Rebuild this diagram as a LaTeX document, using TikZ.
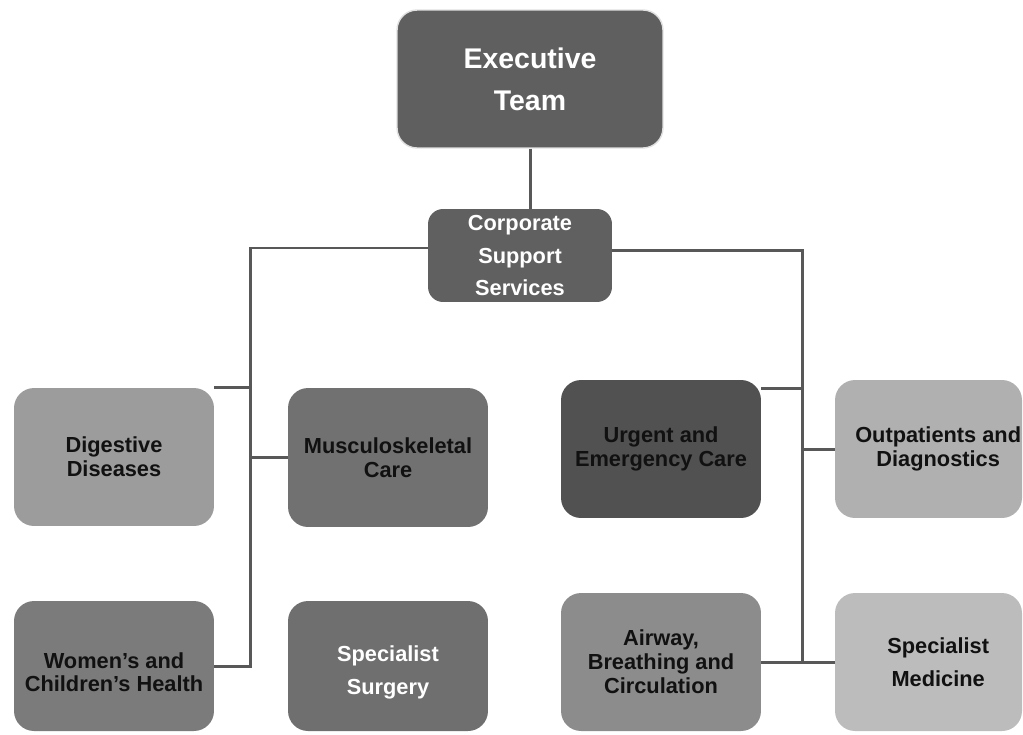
\documentclass[tikz,border=0pt]{standalone}
\usepackage{fontspec}
\setmainfont{Liberation Sans}
\definecolor{cexec}{HTML}{5F5F5F}
\definecolor{ccorp}{HTML}{606060}
\definecolor{cdig}{HTML}{9C9C9C}
\definecolor{cmusc}{HTML}{717171}
\definecolor{curg}{HTML}{515151}
\definecolor{coutp}{HTML}{B0B0B0}
\definecolor{cwom}{HTML}{7B7B7B}
\definecolor{csurg}{HTML}{6F6F6F}
\definecolor{cair}{HTML}{8C8C8C}
\definecolor{cmed}{HTML}{BCBCBC}
\definecolor{linec}{HTML}{585858}
\definecolor{txtdark}{HTML}{111111}
\begin{document}
\begin{tikzpicture}[x=0.02cm,y=-0.02cm,
  box/.style={rectangle, rounded corners=0.4cm, inner sep=0pt, align=center,
    font=\bfseries\fontsize{12.4pt}{13.6pt}\selectfont, text=txtdark},
  widebox/.style={box, font=\bfseries\fontsize{12.4pt}{18.7pt}\selectfont, text=white},
  conn/.style={draw=linec, line width=1.7pt}]
\useasboundingbox (0,0) rectangle (1023,734);
% boxes
\node[box, fill=cexec, draw=black!12, line width=0.8pt, text=white,
  font=\bfseries\fontsize{16.2pt}{23.8pt}\selectfont,
  minimum width=5.32cm, minimum height=2.76cm] (exec) at (530,79) {Executive\\Team};
\node[widebox, fill=ccorp, rounded corners=0.3cm,
  minimum width=3.68cm, minimum height=1.86cm] (corp) at (520,255.5) {Corporate\\Support\\Services};
\node[box, fill=cdig, minimum width=4cm, minimum height=2.76cm] (dig) at (114,457) {Digestive\\Diseases};
\node[box, fill=cmusc, minimum width=4cm, minimum height=2.78cm] (musc) at (388,457.5) {Musculoskeletal\\Care};
\node[box, fill=curg, minimum width=4cm, minimum height=2.76cm] (urg) at (661,449) {Urgent and\\Emergency Care};
\node[box, fill=coutp, minimum width=3.74cm, minimum height=2.76cm] (outp) at (928.5,449) {\hspace*{11pt}Outpatients and\\\hspace*{11pt}Diagnostics};
\node[box, fill=cwom, minimum width=4cm, minimum height=2.6cm] (wom) at (114,666) {\rule{0pt}{16pt}Women’s and\\Children’s Health};
\node[widebox, fill=csurg, minimum width=4cm, minimum height=2.6cm] (surg) at (388,666) {\rule{0pt}{16pt}Specialist\\Surgery};
\node[box, fill=cair, minimum width=4cm, minimum height=2.76cm] (air) at (661,662) {Airway,\\Breathing and\\Circulation};
\node[widebox, fill=cmed, text=txtdark, minimum width=3.74cm, minimum height=2.76cm] (med) at (928.5,662) {\hspace*{11pt}Specialist\\\hspace*{11pt}Medicine};
% buses
\coordinate (lb) at (250.5,248);
\coordinate (rb) at (802,250.5);
% connectors
\draw[conn] (exec.south) -- (exec.south |- corp.north);
\draw[conn] (corp.west |- lb) -- (lb) -- (lb |- wom.east) -- (wom.east);
\draw[conn] (dig.north east) -- (dig.north east -| lb);
\draw[conn] (lb |- musc.west) -- (musc.west);
\draw[conn] (corp.east |- rb) -- (rb) -- (rb |- air.east);
\draw[conn] (air.east) -- (med.west);
\draw[conn] ([yshift=-0.18cm]urg.north east) -- ([yshift=-0.18cm]urg.north east -| rb);
\draw[conn] (rb |- outp.west) -- (outp.west);
\end{tikzpicture}
\end{document}
